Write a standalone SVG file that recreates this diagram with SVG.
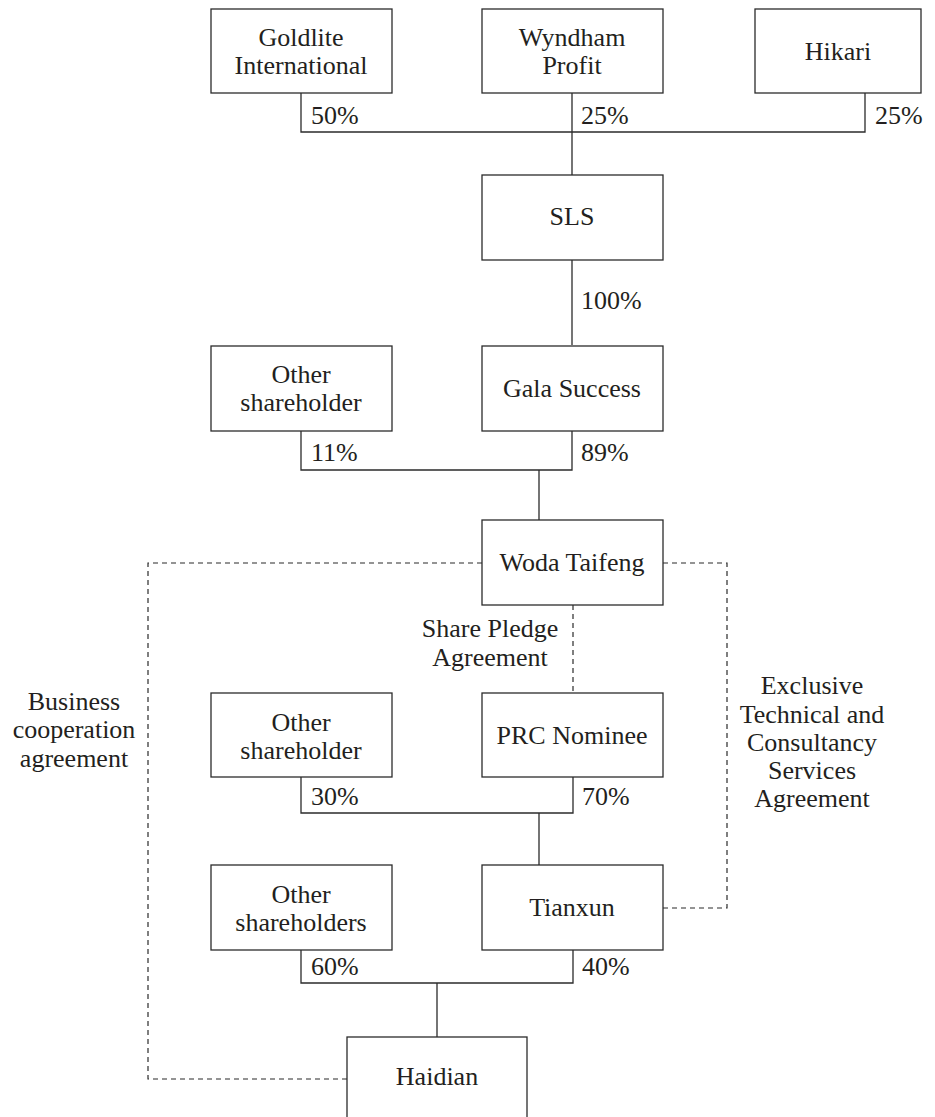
<svg xmlns="http://www.w3.org/2000/svg" width="935" height="1117" viewBox="0 0 935 1117">
<style>
.box{fill:#fff;stroke:#2b2b2b;stroke-width:1.3}
.ln{fill:none;stroke:#2b2b2b;stroke-width:1.3}
.dash{fill:none;stroke:#2b2b2b;stroke-width:1.2;stroke-dasharray:5 4}
text{font-family:"Liberation Serif","Times New Roman",serif;font-size:26px;fill:#231f20}
.c{text-anchor:middle}
</style>
<rect width="935" height="1117" fill="#fff"/>
<g id="connectors">
<path class="ln" d="M301 93V132H865V93M572 93V175"/>
<path class="ln" d="M572 260V345"/>
<path class="ln" d="M301 431V470H572V431M539 470V520"/>
<path class="ln" d="M301 777V813H573V777M539 813V865"/>
<path class="ln" d="M301 950V983H573V950M437 983V1037"/>
<path class="dash" d="M482 563H148V1079H347"/>
<path class="dash" d="M663 563H727V908H663"/>
<path class="dash" d="M573 605V693"/>
<text x="311" y="124">50%</text>
<text x="581" y="124">25%</text>
<text x="875" y="124">25%</text>
<text x="581" y="309">100%</text>
<text x="311" y="461">11%</text>
<text x="581" y="461">89%</text>
<text x="311" y="805">30%</text>
<text x="582" y="805">70%</text>
<text x="311" y="975">60%</text>
<text x="582" y="975">40%</text>
<text class="c" x="490" y="637">Share Pledge</text>
<text class="c" x="490" y="666">Agreement</text>
<text class="c" x="74" y="710">Business</text>
<text class="c" x="74" y="738">cooperation</text>
<text class="c" x="74" y="767">agreement</text>
<text class="c" x="812" y="694">Exclusive</text>
<text class="c" x="812" y="723">Technical and</text>
<text class="c" x="812" y="751">Consultancy</text>
<text class="c" x="812" y="779">Services</text>
<text class="c" x="812" y="807">Agreement</text>
</g>
<g id="goldlite"><rect class="box" x="211" y="9" width="181" height="84"/><text class="c" x="301" y="46">Goldlite</text><text class="c" x="301" y="74">International</text></g>
<g id="wyndham"><rect class="box" x="482" y="9" width="181" height="84"/><text class="c" x="572" y="46">Wyndham</text><text class="c" x="572" y="74">Profit</text></g>
<g id="hikari"><rect class="box" x="755" y="9" width="166" height="84"/><text class="c" x="838" y="60">Hikari</text></g>
<g id="sls"><rect class="box" x="482" y="175" width="181" height="85"/><text class="c" x="572" y="225">SLS</text></g>
<g id="other1"><rect class="box" x="211" y="346" width="181" height="85"/><text class="c" x="301" y="383">Other</text><text class="c" x="301" y="411">shareholder</text></g>
<g id="gala"><rect class="box" x="482" y="346" width="181" height="85"/><text class="c" x="572" y="397">Gala Success</text></g>
<g id="woda"><rect class="box" x="482" y="520" width="181" height="85"/><text class="c" x="572" y="571">Woda Taifeng</text></g>
<g id="other2"><rect class="box" x="211" y="693" width="181" height="84"/><text class="c" x="301" y="731">Other</text><text class="c" x="301" y="759">shareholder</text></g>
<g id="prc"><rect class="box" x="482" y="693" width="181" height="84"/><text class="c" x="572" y="744">PRC Nominee</text></g>
<g id="other3"><rect class="box" x="211" y="865" width="181" height="85"/><text class="c" x="301" y="903">Other</text><text class="c" x="301" y="931">shareholders</text></g>
<g id="tianxun"><rect class="box" x="482" y="865" width="181" height="85"/><text class="c" x="572" y="916">Tianxun</text></g>
<g id="haidian"><rect class="box" x="347" y="1037" width="180" height="90"/><text class="c" x="437" y="1085">Haidian</text></g>
</svg>
